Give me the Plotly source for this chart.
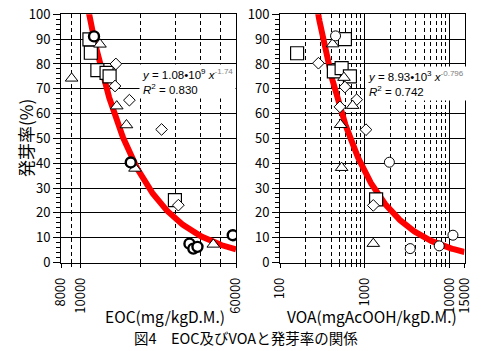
import numpy as np
import plotly.graph_objects as go

# ---------------- data ----------------
# Left panel: EOC (mg/kgD.M.) vs germination rate (%)
eoc_circle_x = [11700, 17860, 35100, 36700, 38500, 57800]
eoc_circle_y = [91.1, 40.3, 7.6, 5.6, 6.3, 11.0]
eoc_square_x = [11100, 11280, 12160, 13520, 14000, 29700]
eoc_square_y = [89.9, 84.5, 77.5, 76.4, 75.0, 25.1]
eoc_tri_x = [9040, 12530, 15200, 17000, 18750, 46200]
eoc_tri_y = [74.2, 87.9, 63.0, 55.4, 37.9, 7.3]
eoc_dia_x = [15050, 14900, 17580, 25470, 30900]
eoc_dia_y = [80.0, 71.1, 65.4, 53.6, 23.1]

# Right panel: VOA (mgAcOOH/kgD.M.) vs germination rate (%)
voa_circle_x = [452, 1950, 3430, 7550, 10960]
voa_circle_y = [91.3, 40.4, 5.6, 6.7, 11.0]
voa_square_x = [159, 583, 432, 533, 668, 1360]
voa_square_y = [84.3, 90.0, 77.0, 78.3, 75.0, 25.4]
voa_tri_x = [417, 568, 719, 518, 533, 1260]
voa_tri_y = [88.0, 74.5, 63.2, 55.5, 38.2, 7.6]
voa_dia_x = [284, 583, 509, 802, 1033, 1260]
voa_dia_y = [80.3, 70.7, 62.7, 65.6, 53.5, 23.0]

# Fitted power curves y = a * x^b (from the chart's equations)
eoc_a, eoc_b = 1.08e9, -1.74
voa_a, voa_b = 8.93e3, -0.796

eoc_ticks = [8000, 10000, 60000]
eoc_minor = [9000, 20000, 30000, 40000, 50000]
voa_ticks = [100, 1000, 10000, 15000]
voa_minor = [200, 300, 400, 500, 600, 700, 800, 900,
             2000, 3000, 4000, 5000, 6000, 7000, 8000, 9000]
y_ticks = list(range(0, 101, 10))

# ---------------- layout helpers ----------------
W, H = 489, 351
def px(x):
    return x / W
def py(y):
    return 1 - y / H

FONT = "Noto Sans CJK JP"
fig = go.Figure()

def add_panel(xa, ya, cx, cy, sx, sy, tx, ty, dx, dy, a, b, xmin, xmax, circ_w):
    xs = np.logspace(np.log10(xmin), np.log10(xmax), 300)
    fig.add_trace(go.Scatter(x=xs, y=a * xs ** b, mode="lines",
                             line=dict(color="#ff0000", width=6),
                             xaxis=xa, yaxis=ya, showlegend=False, hoverinfo="skip"))
    common = dict(mode="markers", xaxis=xa, yaxis=ya, showlegend=False)
    fig.add_trace(go.Scatter(x=sx, y=sy, marker=dict(symbol="square", size=13, color="white",
                             line=dict(color="black", width=1.2)), **common))
    fig.add_trace(go.Scatter(x=dx, y=dy, marker=dict(symbol="diamond", size=9, color="white",
                             line=dict(color="black", width=1)), **common))
    fig.add_trace(go.Scatter(x=tx, y=ty, marker=dict(symbol="triangle-up", size=11, color="white",
                             line=dict(color="black", width=1)), **common))
    fig.add_trace(go.Scatter(x=cx, y=cy, marker=dict(symbol="circle", size=10, color="white",
                             line=dict(color="black", width=circ_w)), **common))

add_panel("x", "y", eoc_circle_x, eoc_circle_y, eoc_square_x, eoc_square_y,
          eoc_tri_x, eoc_tri_y, eoc_dia_x, eoc_dia_y, eoc_a, eoc_b, 8000, 60000, 2.4)
add_panel("x2", "y2", voa_circle_x, voa_circle_y, voa_square_x, voa_square_y,
          voa_tri_x, voa_tri_y, voa_dia_x, voa_dia_y, voa_a, voa_b, 100, 15000, 1)

ydom = [py(262.5), py(14.3)]

def xaxis_cfg(domain, rng, ticks, minor, anchor):
    return dict(type="log", domain=domain, range=rng, anchor=anchor,
                tickmode="array", tickvals=ticks, ticktext=[str(t) for t in ticks],
                tickangle=-90, ticks="outside", ticklen=4, tickcolor="black",
                ticklabelstandoff=5,
                showgrid=True, gridcolor="black", gridwidth=1,
                minor=dict(tickmode="array", tickvals=minor, showgrid=True,
                           gridcolor="black", gridwidth=1, griddash="4px,3px",
                           ticks="outside", ticklen=3, tickcolor="black"),
                showline=True, linecolor="black", linewidth=1, mirror=True,
                zeroline=False, automargin=False,
                tickfont=dict(family=FONT, size=13, color="black"))

def yaxis_cfg(anchor):
    return dict(domain=ydom, range=[0, 100], anchor=anchor,
                tickmode="array", tickvals=y_ticks,
                ticks="outside", ticklen=7, tickcolor="black",
                showgrid=True, gridcolor="black", gridwidth=1,
                minor=dict(dtick=2, ticks="outside", ticklen=4, tickcolor="black", showgrid=False),
                showline=True, linecolor="black", linewidth=1, mirror=True,
                zeroline=False, automargin=False,
                tickfont=dict(family=FONT, size=13, color="black"))

fig.update_layout(
    width=W, height=H, margin=dict(l=0, r=0, t=0, b=0),
    paper_bgcolor="white", plot_bgcolor="white",
    xaxis=xaxis_cfg([px(61), px(236)], [np.log10(8000), np.log10(60000)], eoc_ticks, eoc_minor, "y"),
    yaxis=yaxis_cfg("x"),
    xaxis2=xaxis_cfg([px(280), px(464.5)], [2, np.log10(15000)], voa_ticks, voa_minor, "y2"),
    yaxis2=yaxis_cfg("x2"),
)

sup = '<span style="color:#808080">'
eq_left = ('<i>y</i> = 1.08•10<sup>9</sup> <i>x</i><sup>' + sup + '-1.74</span></sup>'
           '<br><i>R</i><sup>2</sup> = 0.830')
eq_right = ('<i>y</i> = 8.93•10<sup>3</sup> <i>x</i><sup>' + sup + '-0.796</span></sup>'
            '<br><i>R</i><sup>2</sup> = 0.742')

annots = [
    dict(text=eq_left, x=px(139), y=py(64), xanchor="left", yanchor="top", align="left",
         font=dict(family="Liberation Sans", size=11.5, color="black"), bgcolor="white", borderpad=2),
    dict(text=eq_right, x=px(365), y=py(66), xanchor="left", yanchor="top", align="left",
         font=dict(family="Liberation Sans", size=11.5, color="black"), bgcolor="white", borderpad=2),
    dict(text="発芽率(%)", x=px(26), y=py(138), textangle=-90,
         font=dict(family=FONT, size=17, color="black")),
    dict(text="EOC(mg/kgD.M.)", x=px(165), y=py(316),
         font=dict(family=FONT, size=15.5, color="black")),
    dict(text="VOA(mgAcOOH/kgD.M.)", x=px(372), y=py(316),
         font=dict(family=FONT, size=15.5, color="black")),
    dict(text="図4　EOC及びVOAと発芽率の関係", x=px(246), y=py(337),
         font=dict(family=FONT, size=14.5, color="black")),
]
for a in annots:
    a.setdefault("xref", "paper")
    a.setdefault("yref", "paper")
    a.setdefault("xanchor", "center")
    a.setdefault("yanchor", "middle")
    a.setdefault("showarrow", False)
    fig.add_annotation(**a)

fig.write_html("out.html")
